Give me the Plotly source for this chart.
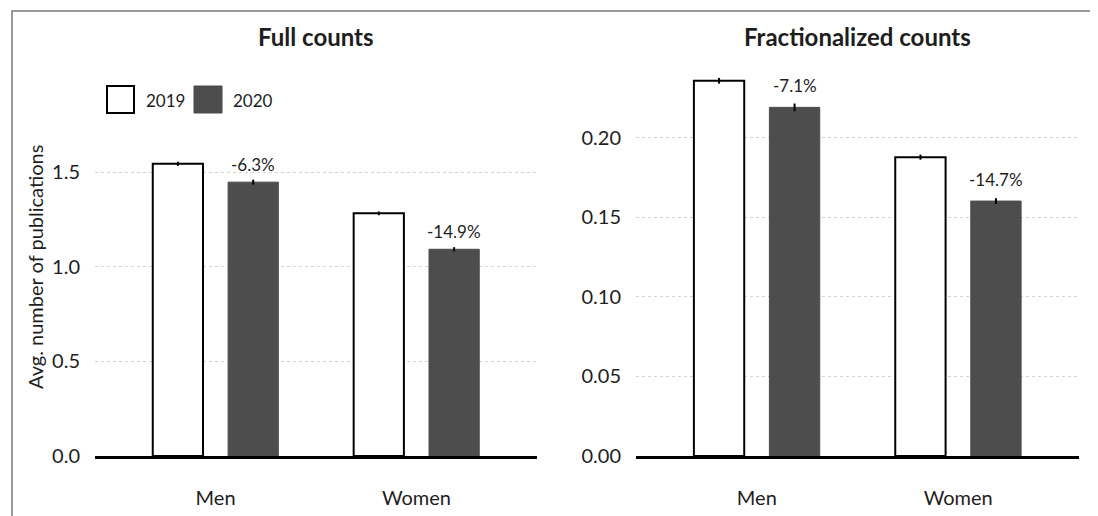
import plotly.graph_objects as go
from plotly.subplots import make_subplots

categories = ["Men", "Women"]
years = ["2019", "2020"]

full_2019 = [1.545, 1.283]
full_2020 = [1.448, 1.093]
full_err_2019 = [0.011, 0.010]
full_err_2020 = [0.013, 0.011]
full_labels = ["-6.3%", "-14.9%"]

frac_2019 = [0.2358, 0.1878]
frac_2020 = [0.2191, 0.1602]
frac_err_2019 = [0.0018, 0.0016]
frac_err_2020 = [0.0024, 0.0018]
frac_labels = ["-7.1%", "-14.7%"]

full_ticks = [0.0, 0.5, 1.0, 1.5]
frac_ticks = [0.0, 0.05, 0.10, 0.15, 0.20]

# page body has an 8px default margin: shift and size the figure to fill the window
OFF = 8
W, H = 1098 - OFF, 516 - OFF
FONT = "Lato"
TXT = "#1e1e1e"
DARK = "#4d4d4d"

def px(x):
    return (x - OFF) / W

def py(y):
    return 1 - (y - OFF) / H

fig = make_subplots(rows=1, cols=2)

BW = 0.25
for col, (v19, v20, e19, e20) in enumerate(
    [(full_2019, full_2020, full_err_2019, full_err_2020),
     (frac_2019, frac_2020, frac_err_2019, frac_err_2020)], start=1):
    fig.add_trace(go.Bar(
        x=categories, y=v19, name=years[0], width=BW, offset=-0.3125,
        marker=dict(color="white", line=dict(color="black", width=2)),
        error_y=dict(type="data", array=e19, color="black", thickness=2, width=0),
        showlegend=False), row=1, col=col)
    fig.add_trace(go.Bar(
        x=categories, y=v20, name=years[1], width=BW, offset=0.0625,
        marker=dict(color=DARK, line=dict(color=DARK, width=1)),
        error_y=dict(type="data", array=e20, color="black", thickness=2, width=0),
        showlegend=False), row=1, col=col)

ydom = [py(456), py(50)]
fig.update_layout(
    width=W, height=H,
    margin=dict(l=0, r=0, t=0, b=0, autoexpand=False),
    paper_bgcolor="white", plot_bgcolor="white",
    font=dict(family=FONT, color=TXT, size=20),
    barmode="group",
    xaxis=dict(domain=[px(95), px(537)], range=[-0.6, 1.6]),
    xaxis2=dict(domain=[px(636), px(1079)], range=[-0.6, 1.6]),
    yaxis=dict(domain=ydom, range=[0, 406 / 189.13], tickvals=full_ticks,
               tickformat=".1f"),
    yaxis2=dict(domain=ydom, range=[0, 406 / 1591.3], tickvals=frac_ticks,
                tickformat=".2f"),
)
for ax in ["xaxis", "xaxis2"]:
    fig.layout[ax].update(showline=True, linecolor="black", linewidth=3,
                          showgrid=False, zeroline=False, ticks="", automargin=False,
                          ticklabelstandoff=22, tickfont=dict(size=20))
for ax in ["yaxis", "yaxis2"]:
    fig.layout[ax].update(showline=False, zeroline=False, showgrid=True,
                          gridcolor="#d4d4d4", griddash="3px,3px", gridwidth=1,
                          ticks="", ticklabelstandoff=14, automargin=False,
                          tickfont=dict(size=20))

annotations = []
# panel titles
annotations.append(dict(text="<b>Full counts</b>", xref="paper", yref="paper",
                        x=px((95 + 537) / 2), y=py(36), showarrow=False,
                        xanchor="center", yanchor="middle", font=dict(size=24)))
annotations.append(dict(text="<b>Fractionalized counts</b>", xref="paper", yref="paper",
                        x=px((636 + 1079) / 2), y=py(36), showarrow=False,
                        xanchor="center", yanchor="middle", font=dict(size=24)))
# y axis title
annotations.append(dict(text="Avg. number of publications", xref="paper", yref="paper",
                        x=px(35), y=py(267), textangle=-90, showarrow=False,
                        xanchor="center", yanchor="middle", font=dict(size=20)))
# percentage labels
for i, (lab, v, e) in enumerate(zip(full_labels, full_2020, full_err_2020)):
    annotations.append(dict(text=lab, xref="x", yref="y", x=i + 0.1875, y=v,
                            yshift=18, showarrow=False, xanchor="center",
                            yanchor="middle", font=dict(size=17)))
for i, (lab, v, e) in enumerate(zip(frac_labels, frac_2020, frac_err_2020)):
    annotations.append(dict(text=lab, xref="x2", yref="y2", x=i + 0.1875, y=v,
                            yshift=22, showarrow=False, xanchor="center",
                            yanchor="middle", font=dict(size=17)))
# legend labels
annotations.append(dict(text=years[0], xref="paper", yref="paper", x=px(144), y=py(100),
                        showarrow=False, xanchor="left", yanchor="middle",
                        font=dict(size=17)))
annotations.append(dict(text=years[1], xref="paper", yref="paper", x=px(231), y=py(100),
                        showarrow=False, xanchor="left", yanchor="middle",
                        font=dict(size=17)))
fig.update_layout(annotations=annotations)

shapes = [
    # outer frame
    dict(type="rect", xref="paper", yref="paper", x0=px(12), x1=px(1093),
         y0=-0.05, y1=py(11), line=dict(color="#7a7a7a", width=1.5),
         fillcolor="rgba(0,0,0,0)", layer="below"),
    # legend swatches
    dict(type="rect", xref="paper", yref="paper", x0=px(107), x1=px(134),
         y0=py(113), y1=py(86), line=dict(color="black", width=2), fillcolor="white"),
    dict(type="rect", xref="paper", yref="paper", x0=px(194), x1=px(222),
         y0=py(113), y1=py(86), line=dict(color=DARK, width=1), fillcolor=DARK),
]
fig.update_layout(shapes=shapes)

fig.write_html("out.html")
